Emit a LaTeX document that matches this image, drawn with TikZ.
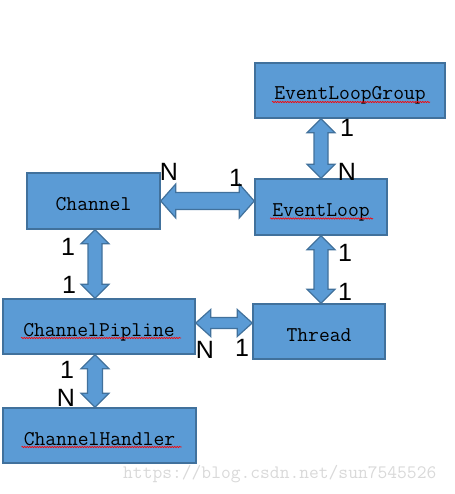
\documentclass[tikz,border=0pt]{standalone}
\usepackage{fontspec}
\setmainfont{Liberation Sans}
\usetikzlibrary{calc,decorations.pathmorphing}
\definecolor{boxblue}{HTML}{5B9BD5}
\definecolor{boxline}{HTML}{41719C}
\tikzstyle{classbox}=[draw=boxline,fill=boxblue,line width=1.5pt,inner sep=0pt,text height=19pt,text depth=0pt,font=\ttfamily\fontsize{21}{21}\selectfont]
\tikzstyle{blockarrow}=[draw=boxline,fill=boxblue,line width=1.2pt,line join=miter]
\tikzstyle{mult}=[inner sep=0pt,font=\fontsize{25}{25}\selectfont]
\tikzstyle{spellmark}=[red,line width=0.6pt,decorate,decoration={snake,amplitude=0.7pt,segment length=2.5pt}]
\newcommand{\drawblockarrow}[5]{
% #1 from, #2 to, #3 head length, #4 half head, #5 half shaft
\draw[blockarrow] (#1)
  -- ($ ($(#1)!#3!(#2)$) !#4!90:(#2) $)
  -- ($ ($(#1)!#3!(#2)$) !#5!90:(#2) $)
  -- ($ ($(#2)!#3!(#1)$) !#5!-90:(#1) $)
  -- ($ ($(#2)!#3!(#1)$) !#4!-90:(#1) $)
  -- (#2)
  -- ($ ($(#2)!#3!(#1)$) !#4!90:(#1) $)
  -- ($ ($(#2)!#3!(#1)$) !#5!90:(#1) $)
  -- ($ ($(#1)!#3!(#2)$) !#5!-90:(#2) $)
  -- ($ ($(#1)!#3!(#2)$) !#4!-90:(#2) $)
  -- cycle;
}

\begin{document}
\begin{tikzpicture}[x=1pt,y=-1pt]
	\useasboundingbox (0,0) rectangle (454,494);
	% classes
	\node[classbox,minimum width=190pt,minimum height=55pt] (elg) at (350,90.5) {EventLoopGroup};
	\node[classbox,minimum width=133pt,minimum height=56pt] (channel) at (93.5,201) {Channel};
	\node[classbox,minimum width=132pt,minimum height=56pt] (eventloop) at (321,207) {EventLoop};
	\node[classbox,minimum width=192pt,minimum height=55pt] (pipline) at (99,326.5) {ChannelPipline};
	\node[classbox,minimum width=132pt,minimum height=55pt] (thread) at (319,331.5) {Thread};
	\node[classbox,minimum width=193pt,minimum height=55pt] (handler) at (99.5,435.5) {ChannelHandler};
	% spell check marks
	\draw[spellmark] ([shift={(-78,11.5)}]elg.center) -- ++(158,0);
	\draw[spellmark] ([shift={(-51,11.5)}]eventloop.center) -- ++(103,0);
	\draw[spellmark] ([shift={(-78,11.5)}]pipline.center) -- ++(160,0);
	\draw[spellmark] ([shift={(-78,11.5)}]handler.center) -- ++(160,0);
	% associations
	\coordinate (elgS) at (eventloop.north |- elg.south);
	\coordinate (channelS) at ([xshift=1.5pt]channel.south);
	\coordinate (piplineN) at (channelS |- pipline.north);
	\coordinate (eventloopW) at (channel.east -| eventloop.west);
	\coordinate (threadN) at (eventloop.south |- thread.north);
	\coordinate (piplineE) at ([yshift=3.5pt]pipline.east);
	\coordinate (threadW) at (piplineE -| thread.west);
	\coordinate (piplineS) at ([xshift=-4pt]pipline.south);
	\coordinate (handlerN) at (piplineS |- handler.north);
	\drawblockarrow{elgS}{eventloop.north}{14pt}{14pt}{7pt}
	\drawblockarrow{channel.east}{eventloopW}{15pt}{17pt}{8.5pt}
	\drawblockarrow{channelS}{piplineN}{14pt}{14pt}{7pt}
	\drawblockarrow{eventloop.south}{threadN}{14pt}{14pt}{7pt}
	\drawblockarrow{piplineE}{threadW}{15pt}{13.5pt}{5.5pt}
	\drawblockarrow{piplineS}{handlerN}{14pt}{14pt}{7.5pt}
	% multiplicities
	\node[mult] (mChannelEL) at (169,172) {N};
	\node[mult] (mELChannel) at (236,178) {1};
	\node[mult] (mGroupEL) at (347,128) {1};
	\node[mult] (mELGroup) at (347,172) {N};
	\node[mult] (mChannelPip) at (68,247) {1};
	\node[mult] (mPipChannel) at (69,285) {1};
	\node[mult] (mELThread) at (345,253) {1};
	\node[mult] (mThreadEL) at (345,292) {1};
	\node[mult] (mPipThread) at (205,350) {N};
	\node[mult] (mThreadPip) at (242,348) {1};
	\node[mult] (mPipHandler) at (67,370) {1};
	\node[mult] (mHandlerPip) at (66,398) {N};
	% watermark
	\node[anchor=west,inner sep=0pt,text=gray!30,font=\ttfamily\fontsize{19}{19}\selectfont] (mark) at (123,474) {https://blog.csdn.net/sun7545526};
\end{tikzpicture}
\end{document}
